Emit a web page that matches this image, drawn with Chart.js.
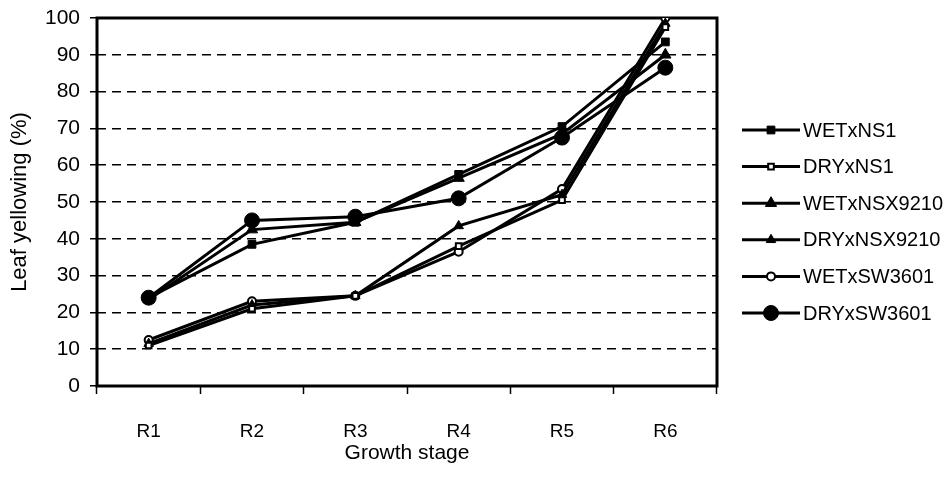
<!DOCTYPE html>
<html>
<head>
<meta charset="utf-8">
<script src="https://cdn.jsdelivr.net/npm/chart.js@4/dist/chart.umd.min.js"></script>
<style>
  html, body { margin: 0; padding: 0; background: #fff; }
  canvas { display: block; }
</style>
</head>
<body>
<canvas id="chart" width="948" height="480"></canvas>
<script>
// Growth stages on the x axis
const stages = ['R1', 'R2', 'R3', 'R4', 'R5', 'R6'];

// Leaf yellowing (%) per treatment x cultivar
const wetNS1      = [24,   38.5, 44.5, 57.5, 70.5, 93.5];
const dryNS1      = [11,   21,   24.5, 38,   50.5, 97.5];
const wetNSX9210  = [23.5, 42.5, 44.5, 56.5, 68.5, 90];
const dryNSX9210  = [11.5, 22,   24.5, 43.5, 52,   98.5];
const wetSW3601   = [12.5, 23,   24.5, 36.5, 53.5, 100];
const drySW3601   = [24,   45,   46,   51,   67.5, 86.5];

const seriesNames = ['WETxNS1', 'DRYxNS1', 'WETxNSX9210', 'DRYxNSX9210', 'WETxSW3601', 'DRYxSW3601'];
const seriesValues = [wetNS1, dryNS1, wetNSX9210, dryNSX9210, wetSW3601, drySW3601];

// y axis range and step
const yMin = 0, yMax = 100, yStep = 10;

// marker look for each series
const markerStyles = [
  { pointStyle: 'rect',     radius: 5.5, fill: '#000', border: 1 },
  { pointStyle: 'rect',     radius: 4,   fill: '#fff', border: 2 },
  { pointStyle: 'triangle', radius: 6.5, fill: '#000', border: 1 },
  { pointStyle: 'triangle', radius: 5.5, fill: '#000', border: 1 },
  { pointStyle: 'circle',   radius: 4,   fill: '#fff', border: 2 },
  { pointStyle: 'circle',   radius: 7.5, fill: '#000', border: 1 }
];

const FONT = '"Liberation Sans", Arial, Helvetica, sans-serif';
Chart.defaults.font.family = FONT;
Chart.defaults.color = '#000';

const datasets = seriesNames.map((name, i) => ({
  label: name,
  data: seriesValues[i],
  borderColor: '#000',
  borderWidth: 3,
  tension: 0,
  fill: false,
  pointStyle: markerStyles[i].pointStyle,
  pointRadius: markerStyles[i].radius,
  pointHoverRadius: markerStyles[i].radius,
  pointBackgroundColor: markerStyles[i].fill,
  pointBorderColor: '#000',
  pointBorderWidth: markerStyles[i].border
}));

// heavy frame around the plotting area
const plotFrame = {
  id: 'plotFrame',
  beforeDatasetsDraw(chart) {
    const { ctx, chartArea: a } = chart;
    ctx.save();
    ctx.strokeStyle = '#000';
    ctx.lineWidth = 3;
    ctx.strokeRect(a.left, a.top, a.right - a.left, a.bottom - a.top);
    ctx.restore();
  }
};

// legend to the right: a line with the marker in its middle, then the name
const sideLegend = {
  id: 'sideLegend',
  afterDraw(chart) {
    const ctx = chart.ctx;
    const x0 = 742, x1 = 800, top = 130, gap = 36.6;
    chart.data.datasets.forEach((ds, i) => {
      const y = top + i * gap;
      ctx.save();
      ctx.strokeStyle = '#000';
      ctx.lineWidth = 3;
      ctx.beginPath();
      ctx.moveTo(x0, y);
      ctx.lineTo(x1, y);
      ctx.stroke();
      ctx.fillStyle = ds.pointBackgroundColor;
      ctx.strokeStyle = '#000';
      ctx.lineWidth = ds.pointBorderWidth;
      Chart.helpers.drawPoint(ctx, {
        pointStyle: ds.pointStyle,
        radius: ds.pointRadius,
        rotation: 0,
        borderWidth: ds.pointBorderWidth
      }, (x0 + x1) / 2, y);
      ctx.fillStyle = '#000';
      ctx.font = '20px ' + FONT;
      ctx.textAlign = 'left';
      ctx.textBaseline = 'middle';
      ctx.fillText(ds.label, x1 + 3, y + 1);
      ctx.restore();
    });
  }
};

new Chart(document.getElementById('chart'), {
  type: 'line',
  data: { labels: stages, datasets },
  options: {
    responsive: false,
    animation: false,
    devicePixelRatio: 1,
    layout: { padding: { left: 0, right: 231, top: 18, bottom: 0 } },
    plugins: {
      legend: { display: false },
      tooltip: { enabled: false }
    },
    scales: {
      x: {
        type: 'category',
        offset: true,
        grid: {
          offset: true,
          drawOnChartArea: false,
          drawTicks: true,
          tickLength: 8,
          tickColor: '#000',
          tickWidth: 1.5
        },
        border: { display: false },
        ticks: {
          font: { size: 19 },
          color: '#000',
          padding: 26,
          maxRotation: 0
        },
        title: {
          display: true,
          text: 'Growth stage',
          font: { size: 21 },
          color: '#000',
          padding: { top: 0, bottom: 14 }
        },
        afterFit(scale) { scale.height = 94; }
      },
      y: {
        min: yMin,
        max: yMax,
        grid: {
          color: (c) => (c.tick && (c.tick.value === yMin || c.tick.value === yMax)) ? 'rgba(0,0,0,0)' : '#000',
          lineWidth: 1.5,
          tickLength: 7,
          tickColor: '#000',
          tickWidth: 1.5,
          tickBorderDash: []
        },
        border: { display: false, dash: [9, 6] },
        ticks: {
          stepSize: yStep,
          font: { size: 21 },
          color: '#000',
          padding: 10
        },
        title: {
          display: true,
          text: 'Leaf yellowing (%)',
          font: { size: 22 },
          color: '#000',
          padding: { top: 7, bottom: 0 }
        },
        afterFit(scale) {
          scale.width = 97;
          scale.paddingTop = 0;
          scale.paddingBottom = 0;
        }
      }
    }
  },
  plugins: [plotFrame, sideLegend]
});
</script>
</body>
</html>
